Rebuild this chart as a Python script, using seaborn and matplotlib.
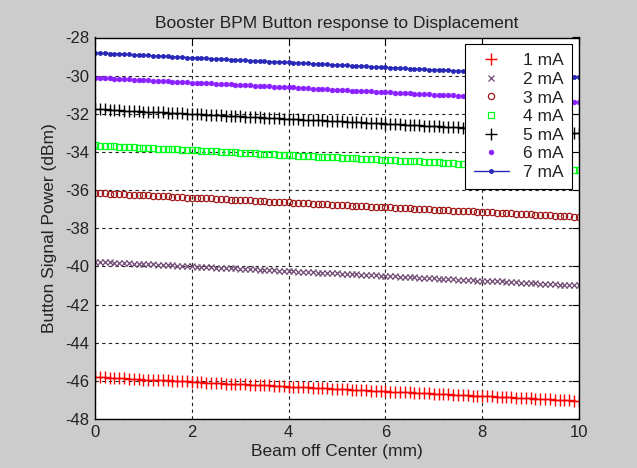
import numpy as np
import pandas as pd
import matplotlib
matplotlib.use("Agg")
import matplotlib.pyplot as plt
import seaborn as sns

displacement_mm = np.linspace(0, 10, 101)

ma1 = [-45.80, -45.82, -45.82, -45.84, -45.85, -45.87, -45.87, -45.89, -45.90, -45.91, -45.93,
       -45.93, -45.95, -45.96, -45.98, -45.98, -46.00, -46.01, -46.02, -46.03, -46.05,
       -46.06, -46.07, -46.09, -46.10, -46.11, -46.12, -46.14, -46.14, -46.16, -46.17,
       -46.19, -46.20, -46.21, -46.22, -46.24, -46.24, -46.26, -46.27, -46.29, -46.30,
       -46.31, -46.32, -46.34, -46.34, -46.36, -46.37, -46.39, -46.40, -46.41, -46.42,
       -46.44, -46.44, -46.46, -46.47, -46.49, -46.50, -46.51, -46.52, -46.54, -46.55,
       -46.56, -46.57, -46.59, -46.59, -46.61, -46.62, -46.64, -46.65, -46.66, -46.67,
       -46.69, -46.70, -46.71, -46.72, -46.74, -46.74, -46.76, -46.77, -46.79, -46.80,
       -46.81, -46.82, -46.84, -46.84, -46.86, -46.87, -46.89, -46.90, -46.91, -46.92,
       -46.94, -46.95, -46.96, -46.97, -46.99, -47.00, -47.01, -47.02, -47.04, -47.05]

ma2 = [-39.75, -39.77, -39.77, -39.79, -39.80, -39.82, -39.82, -39.84, -39.85, -39.86, -39.88,
       -39.88, -39.90, -39.91, -39.93, -39.93, -39.95, -39.96, -39.97, -39.98, -40.00,
       -40.01, -40.02, -40.04, -40.05, -40.06, -40.07, -40.09, -40.09, -40.11, -40.12,
       -40.14, -40.15, -40.16, -40.17, -40.19, -40.19, -40.21, -40.22, -40.24, -40.25,
       -40.26, -40.27, -40.29, -40.29, -40.31, -40.32, -40.34, -40.35, -40.36, -40.37,
       -40.39, -40.39, -40.41, -40.42, -40.44, -40.45, -40.46, -40.47, -40.49, -40.50,
       -40.51, -40.52, -40.54, -40.54, -40.56, -40.57, -40.59, -40.60, -40.61, -40.62,
       -40.64, -40.65, -40.66, -40.67, -40.69, -40.69, -40.71, -40.72, -40.74, -40.75,
       -40.76, -40.77, -40.79, -40.79, -40.81, -40.82, -40.84, -40.85, -40.86, -40.87,
       -40.89, -40.90, -40.91, -40.92, -40.94, -40.95, -40.96, -40.97, -40.99, -41.00]

ma3 = [-36.15, -36.17, -36.17, -36.19, -36.20, -36.21, -36.22, -36.24, -36.25, -36.26, -36.28,
       -36.28, -36.30, -36.31, -36.33, -36.33, -36.35, -36.36, -36.37, -36.39, -36.40,
       -36.41, -36.42, -36.44, -36.44, -36.46, -36.47, -36.49, -36.50, -36.51, -36.52,
       -36.54, -36.54, -36.56, -36.57, -36.59, -36.60, -36.61, -36.62, -36.64, -36.65,
       -36.66, -36.67, -36.69, -36.69, -36.71, -36.72, -36.74, -36.75, -36.76, -36.77,
       -36.79, -36.79, -36.81, -36.82, -36.84, -36.85, -36.86, -36.87, -36.89, -36.90,
       -36.91, -36.92, -36.94, -36.94, -36.96, -36.97, -36.99, -37.00, -37.01, -37.02,
       -37.04, -37.04, -37.06, -37.07, -37.09, -37.10, -37.11, -37.12, -37.14, -37.15,
       -37.16, -37.17, -37.19, -37.19, -37.21, -37.22, -37.24, -37.25, -37.26, -37.27,
       -37.29, -37.30, -37.31, -37.32, -37.34, -37.35, -37.36, -37.37, -37.39, -37.40]

ma4 = [-33.65, -33.67, -33.67, -33.69, -33.70, -33.72, -33.73, -33.74, -33.76, -33.77, -33.78,
       -33.79, -33.81, -33.82, -33.83, -33.84, -33.86, -33.87, -33.88, -33.90, -33.91,
       -33.92, -33.93, -33.95, -33.96, -33.97, -33.98, -34.00, -34.01, -34.02, -34.04,
       -34.05, -34.06, -34.07, -34.09, -34.10, -34.11, -34.12, -34.14, -34.15, -34.16,
       -34.17, -34.19, -34.20, -34.21, -34.23, -34.24, -34.25, -34.26, -34.28, -34.29,
       -34.30, -34.31, -34.33, -34.34, -34.35, -34.36, -34.38, -34.39, -34.40, -34.42,
       -34.43, -34.44, -34.45, -34.47, -34.48, -34.49, -34.50, -34.52, -34.53, -34.54,
       -34.55, -34.57, -34.58, -34.59, -34.61, -34.62, -34.63, -34.64, -34.66, -34.67,
       -34.68, -34.69, -34.71, -34.72, -34.73, -34.74, -34.76, -34.77, -34.78, -34.80,
       -34.81, -34.82, -34.84, -34.85, -34.86, -34.88, -34.89, -34.91, -34.93, -34.95]

ma5 = [-31.75, -31.77, -31.77, -31.79, -31.80, -31.82, -31.83, -31.84, -31.86, -31.87, -31.88,
       -31.89, -31.91, -31.92, -31.93, -31.94, -31.96, -31.97, -31.98, -32.00, -32.01,
       -32.02, -32.03, -32.05, -32.06, -32.07, -32.08, -32.10, -32.11, -32.12, -32.14,
       -32.15, -32.16, -32.17, -32.19, -32.20, -32.21, -32.22, -32.24, -32.25, -32.26,
       -32.27, -32.29, -32.30, -32.31, -32.33, -32.34, -32.35, -32.36, -32.38, -32.39,
       -32.40, -32.41, -32.43, -32.44, -32.45, -32.46, -32.48, -32.49, -32.50, -32.52,
       -32.53, -32.54, -32.55, -32.57, -32.58, -32.59, -32.60, -32.62, -32.63, -32.64,
       -32.65, -32.67, -32.68, -32.69, -32.71, -32.72, -32.73, -32.74, -32.76, -32.77,
       -32.78, -32.79, -32.81, -32.82, -32.83, -32.84, -32.86, -32.87, -32.88, -32.90,
       -32.91, -32.92, -32.93, -32.95, -32.96, -32.97, -32.98, -33.00, -33.01, -33.03]

ma6 = [-30.10, -30.12, -30.12, -30.14, -30.15, -30.17, -30.18, -30.19, -30.21, -30.22, -30.23,
       -30.24, -30.26, -30.27, -30.28, -30.29, -30.31, -30.32, -30.33, -30.35, -30.36,
       -30.37, -30.38, -30.40, -30.41, -30.42, -30.43, -30.45, -30.46, -30.47, -30.49,
       -30.50, -30.51, -30.52, -30.54, -30.55, -30.56, -30.57, -30.59, -30.60, -30.61,
       -30.62, -30.64, -30.65, -30.66, -30.68, -30.69, -30.70, -30.71, -30.73, -30.74,
       -30.75, -30.76, -30.78, -30.79, -30.80, -30.81, -30.83, -30.84, -30.85, -30.87,
       -30.88, -30.89, -30.90, -30.92, -30.93, -30.94, -30.95, -30.97, -30.98, -30.99,
       -31.00, -31.02, -31.03, -31.04, -31.06, -31.07, -31.08, -31.09, -31.11, -31.12,
       -31.13, -31.14, -31.16, -31.17, -31.18, -31.19, -31.21, -31.22, -31.23, -31.25,
       -31.26, -31.27, -31.28, -31.30, -31.31, -31.32, -31.33, -31.35, -31.36, -31.38]

ma7 = [-28.80, -28.82, -28.82, -28.84, -28.85, -28.87, -28.88, -28.89, -28.91, -28.92, -28.93,
       -28.94, -28.96, -28.97, -28.98, -28.99, -29.01, -29.02, -29.03, -29.05, -29.06,
       -29.07, -29.08, -29.10, -29.11, -29.12, -29.13, -29.15, -29.16, -29.17, -29.19,
       -29.20, -29.21, -29.22, -29.24, -29.25, -29.26, -29.27, -29.29, -29.30, -29.31,
       -29.32, -29.34, -29.35, -29.36, -29.38, -29.39, -29.40, -29.41, -29.43, -29.44,
       -29.45, -29.46, -29.48, -29.49, -29.50, -29.51, -29.53, -29.54, -29.55, -29.57,
       -29.58, -29.59, -29.60, -29.62, -29.63, -29.64, -29.65, -29.67, -29.68, -29.69,
       -29.70, -29.72, -29.73, -29.74, -29.76, -29.77, -29.78, -29.79, -29.81, -29.82,
       -29.83, -29.84, -29.86, -29.87, -29.88, -29.89, -29.91, -29.92, -29.93, -29.95,
       -29.96, -29.97, -29.98, -30.00, -30.01, -30.02, -30.03, -30.05, -30.06, -30.08]

series_labels = ["1 mA", "2 mA", "3 mA", "4 mA", "5 mA", "6 mA", "7 mA"]
series_values = [ma1, ma2, ma3, ma4, ma5, ma6, ma7]

x_ticks = [0, 2, 4, 6, 8, 10]
y_ticks = [-48, -46, -44, -42, -40, -38, -36, -34, -32, -30, -28]

title = "Booster BPM Button response to Displacement"
x_label = "Beam off Center (mm)"
y_label = "Button Signal Power (dBm)"

styles = [
    dict(marker="+", color="#ff0000", markersize=9, markeredgewidth=1.0, linestyle="none",
         markeredgecolor="#ff0000", markerfacecolor="#ff0000"),
    dict(marker="x", color="#704a74", markersize=4, markeredgewidth=0.9, linestyle="none",
         markeredgecolor="#704a74", markerfacecolor="#704a74"),
    dict(marker="o", color="#a01818", markersize=4.5, markeredgewidth=0.9, linestyle="none",
         markeredgecolor="#a01818", markerfacecolor="none"),
    dict(marker="s", color="#00ff20", markersize=5, markeredgewidth=0.9, linestyle="none",
         markeredgecolor="#00ff20", markerfacecolor="none"),
    dict(marker="+", color="#000000", markersize=9, markeredgewidth=1.0, linestyle="none",
         markeredgecolor="#000000", markerfacecolor="#000000"),
    dict(marker="o", color="#8a20ff", markersize=3.4, markeredgewidth=0.5, linestyle="none",
         markeredgecolor="#8a20ff", markerfacecolor="#8a20ff"),
    dict(marker="o", color="#2828b8", markersize=3.0, markeredgewidth=0.5, linestyle="-",
         linewidth=1.0, markeredgecolor="#2828b8", markerfacecolor="#2828b8"),
]

sns.set_theme(style="white")
plt.rcParams["font.family"] = ["Liberation Sans", "DejaVu Sans"]

fig = plt.figure(figsize=(6.37, 4.68), dpi=100, facecolor="#cccccc")
ax = fig.add_axes([95 / 637, 1 - 419 / 468, (579 - 95) / 637, (419 - 37.5) / 468])
ax.set_facecolor("white")

for lab, vals, st in zip(series_labels, series_values, styles):
    df = pd.DataFrame({"x": displacement_mm, "y": vals})
    sns.lineplot(data=df, x="x", y="y", ax=ax, label=lab, sort=False,
                 estimator=None, **st)

ax.set_xlim(0, 10)
ax.set_ylim(-48, -28)
ax.set_xticks(x_ticks)
ax.set_yticks(y_ticks)
ax.set_xticklabels([str(t) for t in x_ticks])
ax.set_yticklabels([str(t) for t in y_ticks])

ax.grid(True, color="#222222", linestyle=(0, (3, 3)), linewidth=0.8)
ax.set_axisbelow(True)
for sp in ax.spines.values():
    sp.set_color("black")
    sp.set_linewidth(1.0)
    sp.set_visible(True)
ax.tick_params(direction="in", top=True, right=True, length=5, width=0.8,
               labelsize=12, colors="black", pad=4)
for lbl in ax.get_xticklabels() + ax.get_yticklabels():
    lbl.set_color("#222222")

ax.set_title(title, fontsize=12.5, color="#222222", pad=7)
ax.set_xlabel(x_label, fontsize=12.5, color="#222222", labelpad=3)
ax.set_ylabel(y_label, fontsize=12.5, color="#222222", labelpad=6)

leg = ax.legend(loc="upper right", fontsize=12.5, frameon=True, fancybox=False,
                edgecolor="black", facecolor="white", framealpha=1.0,
                borderaxespad=0.4, labelspacing=0.2, handlelength=2.0,
                handletextpad=0.8, borderpad=0.5)
leg.get_frame().set_linewidth(0.8)
for t in leg.get_texts():
    t.set_color("#222222")

fig.savefig("out.png", dpi=100, facecolor=fig.get_facecolor())
